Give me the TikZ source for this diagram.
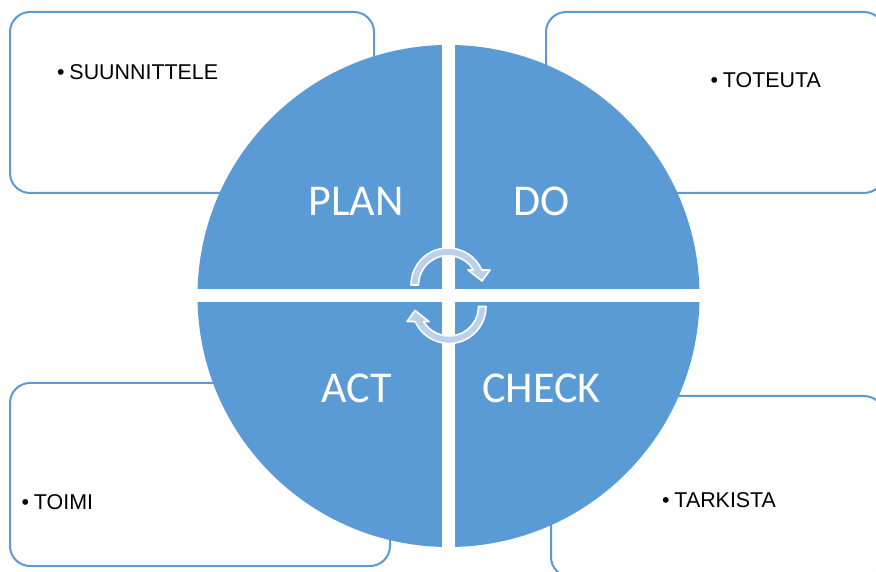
\documentclass[tikz,border=0pt]{standalone}
\usepackage{fontspec}
\setmainfont{Liberation Sans}
\newfontfamily\quadfont{Carlito}

\definecolor{quadblue}{RGB}{91,155,213}
\definecolor{arrowblue}{RGB}{189,208,234}

\tikzset{
	notebox/.style = {draw = quadblue, line width = 2pt, rounded corners = 20pt, fill = white, inner sep = 0pt},
	notetext/.style = {anchor = base west, inner sep = 0pt, font = \fontsize{21.4}{25}\selectfont},
	quadlabel/.style = {anchor = base, inner sep = 0pt, text = white, font = \quadfont\fontsize{44}{50}\selectfont},
	cyclearrow/.style = {fill = arrowblue, draw = white, line width = 1.6pt, line join = round}
}

\begin{document}
\begin{tikzpicture}[x = 1pt, y = 1pt]
		\clip (0, 0) rectangle (876, 571);

		% note boxes behind the circle
		\node (plannote) at (192, 468.5) [notebox, minimum width = 364pt, minimum height = 181pt] {};
		\node (donote) at (715, 468.5) [notebox, minimum width = 338pt, minimum height = 181pt] {};
		\node (actnote) at (200, 96.5) [notebox, minimum width = 380pt, minimum height = 183pt] {};
		\node (checknote) at (717.5, 84.5) [notebox, minimum width = 333pt, minimum height = 181pt] {};

		\node (plantext) at (57, 491) [notetext] {\textbullet\hspace{4.8pt}SUUNNITTELE};
		\node (dotext) at (710.5, 483) [notetext] {\textbullet\hspace{4.8pt}TOTEUTA};
		\node (acttext) at (21.5, 62) [notetext] {\textbullet\hspace{4.8pt}TOIMI};
		\node (checktext) at (662, 64) [notetext] {\textbullet\hspace{4.8pt}TARKISTA};

		% the four quadrants
		\begin{scope}
			\clip (448.5, 275) circle (251);
			\fill [quadblue] (442, 281.5) rectangle (190, 530);
			\fill [quadblue] (455, 281.5) rectangle (710, 530);
			\fill [quadblue] (442, 268.5) rectangle (190, 20);
			\fill [quadblue] (455, 268.5) rectangle (710, 20);
		\end{scope}

		% cycle arrows
		\draw [cyclearrow, shift = {(448, 286)}] (180:37) arc [start angle = 180, end angle = 23.9, radius = 37] -- (42, 15) -- (34, 4) -- (20, 15) -- (25.4, 15) arc [start angle = 30.6, end angle = 180, radius = 29.5] -- cycle;
		\draw [cyclearrow, shift = {(449, 264.5)}, rotate = 180] (180:37) arc [start angle = 180, end angle = 23.9, radius = 37] -- (42, 15) -- (34, 4) -- (20, 15) -- (25.4, 15) arc [start angle = 30.6, end angle = 180, radius = 29.5] -- cycle;

		\node (plan) at (356, 355) [quadlabel] {PLAN};
		\node (do) at (542, 355) [quadlabel] {DO};
		\node (act) at (356.5, 168.3) [quadlabel] {ACT};
		\node (check) at (541.5, 168.3) [quadlabel] {CHECK};
\end{tikzpicture}
\end{document}
